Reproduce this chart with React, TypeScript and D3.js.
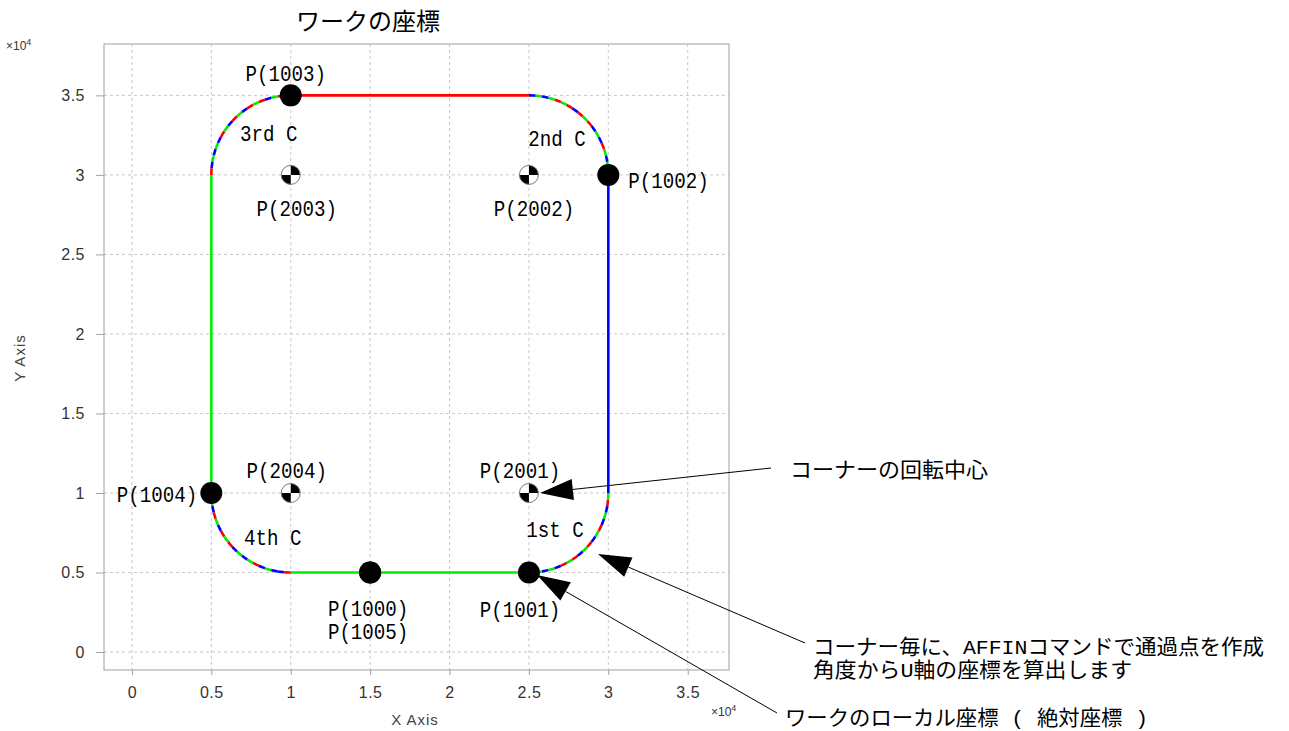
import React, { useRef, useEffect } from 'react';
import * as d3 from 'd3';

// data (x / y in raw units, axis shows x10^4)
const pointNames = ['P(1000)', 'P(1001)', 'P(1002)', 'P(1003)', 'P(1004)', 'P(1005)'];
const pointX = [15000, 25000, 30000, 10000, 5000, 15000];
const pointY = [5000, 5000, 30000, 35000, 10000, 5000];

const centerNames = ['P(2001)', 'P(2002)', 'P(2003)', 'P(2004)'];
const centerX = [25000, 25000, 10000, 10000];
const centerY = [10000, 30000, 30000, 10000];

const cornerNames = ['1st C', '2nd C', '3rd C', '4th C'];
const cornerRadius = 5000;
const cornerStartDeg = [-90, 0, 90, 180];
const cornerColors = [
  'rgbgbrgrbgrbgrbgbrg',
  'bgbgrbgbrgrbrgrgbgb',
  'brgbrgrbgrbgrbgbgbr',
  'rgbrgbrgrbgbgrbgbbr',
];

// straight edges of the path
const edgeX1 = [10000, 30000, 25000, 5000];
const edgeY1 = [5000, 10000, 35000, 30000];
const edgeX2 = [25000, 30000, 10000, 5000];
const edgeY2 = [5000, 30000, 35000, 10000];
const edgeColors = ['g', 'b', 'r', 'g'];

const tickValues = [0, 5000, 10000, 15000, 20000, 25000, 30000, 35000];
const tickLabels = ['0', '0.5', '1', '1.5', '2', '2.5', '3', '3.5'];

const titleText = 'ワークの座標';
const note1 = 'コーナーの回転中心';
const note2a = 'コーナー毎に、AFFINコマンドで通過点を作成';
const note2b = '角度からU軸の座標を算出します';
const note3 = 'ワークのローカル座標 ( 絶対座標 )';

const colorMap: Record<string, string> = { r: '#ff0000', g: '#00ee00', b: '#0000ff' };

const JP = "'Liberation Mono', 'Noto Sans CJK JP', sans-serif";
const SANS = "'Liberation Sans', Arial, sans-serif";

// width of a string in MS Gothic-like em units
const emw = (s: string) => Array.from(s).reduce((a, c) => a + (c.charCodeAt(0) > 255 ? 1 : 0.5), 0);

const App: React.FC = () => {
  const svgRef = useRef<SVGSVGElement | null>(null);

  useEffect(() => {
    const svg = d3.select(svgRef.current);
    svg.selectAll('*').remove();

    const left = 104, right = 729, top = 44, bottom = 670;
    const x = d3.scaleLinear().domain([-1760, 37600]).range([left, right]);
    const y = d3.scaleLinear().domain([-1130, 38230]).range([bottom, top]);

    // grid
    const grid = svg.append('g');
    grid.selectAll('.gx').data(tickValues).enter().append('line')
      .attr('x1', d => x(d)).attr('x2', d => x(d))
      .attr('y1', top).attr('y2', bottom)
      .attr('stroke', '#c8c8c8').attr('stroke-dasharray', '3,3');
    grid.selectAll('.gy').data(tickValues).enter().append('line')
      .attr('y1', d => y(d)).attr('y2', d => y(d))
      .attr('x1', left).attr('x2', right)
      .attr('stroke', '#c8c8c8').attr('stroke-dasharray', '3,3');

    svg.append('rect')
      .attr('x', left).attr('y', top)
      .attr('width', right - left).attr('height', bottom - top)
      .attr('fill', 'none').attr('stroke', '#a0a0a0');

    // axes
    const xAxis = d3.axisBottom(x).tickValues(tickValues)
      .tickFormat((d, i) => tickLabels[i]).tickSize(5).tickPadding(12);
    svg.append('g').attr('transform', `translate(0,${bottom})`).call(xAxis)
      .call(g => g.select('.domain').remove())
      .call(g => g.selectAll('line').attr('stroke', '#a0a0a0'))
      .call(g => g.selectAll('text').attr('font-family', SANS).attr('font-size', 16)
        .attr('letter-spacing', 0.5).attr('fill', '#333'));

    const yAxis = d3.axisLeft(y).tickValues(tickValues)
      .tickFormat((d, i) => tickLabels[i]).tickSize(8).tickPadding(11);
    svg.append('g').attr('transform', `translate(${left},0)`).call(yAxis)
      .call(g => g.select('.domain').remove())
      .call(g => g.selectAll('line').attr('stroke', '#a0a0a0'))
      .call(g => g.selectAll('text').attr('font-family', SANS).attr('font-size', 16)
        .attr('letter-spacing', 0.5).attr('fill', '#333'));

    const exp = (gx: number, gy: number) => {
      const t = svg.append('text').attr('x', gx).attr('y', gy)
        .attr('font-family', SANS).attr('font-size', 12).attr('fill', '#333');
      t.append('tspan').text('×10');
      t.append('tspan').attr('dy', -5).attr('font-size', 9).text('4');
    };
    exp(6, 50);
    exp(711, 716);

    svg.append('text').attr('x', 415).attr('y', 725).attr('text-anchor', 'middle')
      .attr('font-family', SANS).attr('font-size', 15).attr('letter-spacing', 1)
      .attr('fill', '#444').text('X Axis');
    svg.append('text').attr('transform', 'translate(25,358) rotate(-90)').attr('text-anchor', 'middle')
      .attr('font-family', SANS).attr('font-size', 15).attr('letter-spacing', 1)
      .attr('fill', '#444').text('Y Axis');

    svg.append('text').attr('x', 368).attr('y', 30).attr('text-anchor', 'middle')
      .attr('font-family', JP).attr('font-size', 24).attr('fill', '#000').text(titleText);

    // straight edges
    svg.append('g').selectAll('line').data(edgeColors).enter().append('line')
      .attr('x1', (d, i) => x(edgeX1[i])).attr('y1', (d, i) => y(edgeY1[i]))
      .attr('x2', (d, i) => x(edgeX2[i])).attr('y2', (d, i) => y(edgeY2[i]))
      .attr('stroke', d => colorMap[d]).attr('stroke-width', 2.6);

    // corner arcs, one short segment per colour
    const line = d3.line<[number, number]>().x(d => x(d[0])).y(d => y(d[1]));
    cornerColors.forEach((seq, ci) => {
      const n = seq.length;
      const step = 90 / n;
      seq.split('').forEach((c, k) => {
        const pts: [number, number][] = [];
        for (let s = 0; s <= 4; s++) {
          const a = ((cornerStartDeg[ci] + (k + s / 4) * step) * Math.PI) / 180;
          pts.push([centerX[ci] + cornerRadius * Math.cos(a), centerY[ci] + cornerRadius * Math.sin(a)]);
        }
        svg.append('path').attr('d', line(pts)).attr('fill', 'none')
          .attr('stroke', colorMap[c]).attr('stroke-width', 2.6);
      });
    });

    // rotation-centre markers
    const cg = svg.append('g');
    centerNames.forEach((nm, i) => {
      const cx = x(centerX[i]), cy = y(centerY[i]), r = 9.5;
      const g = cg.append('g').attr('transform', `translate(${cx},${cy})`);
      g.append('circle').attr('r', r).attr('fill', '#fff');
      const arc = d3.arc<any>().innerRadius(0).outerRadius(r);
      g.append('path').attr('d', arc({ startAngle: 0, endAngle: Math.PI / 2 })).attr('fill', '#000');
      g.append('path').attr('d', arc({ startAngle: Math.PI, endAngle: Math.PI * 1.5 })).attr('fill', '#000');
      g.append('circle').attr('r', r).attr('fill', 'none').attr('stroke', '#777').attr('stroke-width', 1);
    });

    // path points
    svg.append('g').selectAll('circle').data(pointNames).enter().append('circle')
      .attr('cx', (d, i) => x(pointX[i])).attr('cy', (d, i) => y(pointY[i]))
      .attr('r', 11).attr('fill', '#000');

    const LF = 22;
    const label = (s: string, lx: number, ly: number, anchor: string) => {
      svg.append('text').attr('x', lx).attr('y', ly).attr('text-anchor', anchor)
        .attr('font-family', JP).attr('font-size', LF).attr('fill', '#000')
        .attr('textLength', emw(s) * 23).attr('lengthAdjust', 'spacingAndGlyphs').text(s);
    };

    const pDx = [-2, -9, 20, -5, -14, -2];
    const pDy = [43, 44, 13, -14, 9, 66];
    const pAnchor = ['middle', 'middle', 'start', 'middle', 'end', 'middle'];
    pointNames.forEach((s, i) => label(s, x(pointX[i]) + pDx[i], y(pointY[i]) + pDy[i], pAnchor[i]));

    const cDx = [-9, 5, 6, -4];
    const cDy = [-15, 41, 41, -15];
    centerNames.forEach((s, i) => label(s, x(centerX[i]) + cDx[i], y(centerY[i]) + cDy[i], 'middle'));

    const kDx = [26, 28, -22, -18];
    const kDy = [44, -29, -34, 52];
    cornerNames.forEach((s, i) => label(s, x(centerX[i]) + kDx[i], y(centerY[i]) + kDy[i], 'middle'));

    // annotations
    const NF = 21;
    const note = (s: string, nx: number, ny: number) => {
      svg.append('text').attr('x', nx).attr('y', ny)
        .attr('font-family', JP).attr('font-size', NF).attr('fill', '#000')
        .attr('textLength', emw(s) * 22).attr('lengthAdjust', 'spacingAndGlyphs').text(s);
    };
    note(note1, 790, 477);
    note(note2a, 813, 654);
    note(note2b, 813, 677);
    note(note3, 785, 725);

    const arrow = (x0: number, y0: number, x1: number, y1: number) => {
      const len = 33, hw = 10.5;
      const dx = x1 - x0, dy = y1 - y0, L = Math.hypot(dx, dy);
      const ux = dx / L, uy = dy / L;
      const bx = x1 - ux * len, by = y1 - uy * len;
      svg.append('line').attr('x1', x0).attr('y1', y0).attr('x2', bx).attr('y2', by)
        .attr('stroke', '#000').attr('stroke-width', 1);
      svg.append('path')
        .attr('d', `M${x1},${y1}L${bx - uy * hw},${by + ux * hw}L${bx + uy * hw},${by - ux * hw}Z`)
        .attr('fill', '#000');
    };
    arrow(771, 468, 540, 493);
    arrow(805, 643, 598, 554);
    arrow(777, 713, 537, 575);
  }, []);

  return (
    <svg ref={svgRef} width={1289} height={731}
      style={{ position: 'absolute', left: 0, top: 0, background: '#fff' }} />
  );
};

export default App;
